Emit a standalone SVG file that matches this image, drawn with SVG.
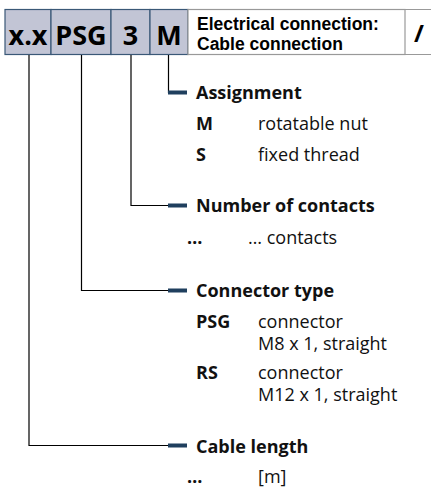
<svg xmlns="http://www.w3.org/2000/svg" width="431" height="488" viewBox="0 0 431 488">
<style>
.code{fill:#c2c5d5;stroke:#3a5877;stroke-width:1.2}
.wbox{fill:#fff;stroke:#999;stroke-width:1.2}
.hd{font-family:"Open Sans","Liberation Sans",sans-serif;font-weight:bold;font-size:27px;fill:#000;text-anchor:middle}
.hs{font-family:"Liberation Sans","Open Sans",sans-serif;font-weight:bold;font-size:17.5px;fill:#000}
.b{font-family:"Open Sans","Liberation Sans",sans-serif;font-weight:bold;font-size:18px;fill:#111}
.t{font-family:"Open Sans","Liberation Sans",sans-serif;font-size:18px;fill:#111}
.ln{fill:none;stroke:#000;stroke-width:1.2}
.dash{fill:#1f3f5e}
</style>
<g id="header">
  <g id="box-xx"><rect class="code" x="5" y="9.5" width="46" height="45"/><text class="hd" x="28" y="45">x.x</text></g>
  <g id="box-psg"><rect class="code" x="51" y="9.5" width="60" height="45"/><text class="hd" x="81" y="45">PSG</text></g>
  <g id="box-3"><rect class="code" x="111" y="9.5" width="39" height="45"/><text class="hd" x="130.5" y="45">3</text></g>
  <g id="box-m"><rect class="code" x="150" y="9.5" width="38" height="45"/><text class="hd" x="169" y="45">M</text></g>
  <g id="box-elec"><rect class="wbox" x="188" y="9.5" width="217" height="45"/><text class="hs" x="197" y="30">Electrical connection:</text><text class="hs" x="197" y="50">Cable connection</text></g>
  <g id="box-slash"><path d="M405 9.5H432M405 54.5H432" stroke="#999" stroke-width="1.2"/><text class="hd" x="419" y="42" style="font-size:24px">/</text></g>
</g>
<g id="connectors">
  <path class="ln" d="M168.5 55V92.5H170"/>
  <path class="ln" d="M131 55V205.5H170"/>
  <path class="ln" d="M81.5 55V290.5H170"/>
  <path class="ln" d="M29 55V445.5H170"/>
  <rect class="dash" x="168" y="90.5" width="19" height="4"/>
  <rect class="dash" x="168" y="203.5" width="19" height="4"/>
  <rect class="dash" x="168" y="288.5" width="19" height="4"/>
  <rect class="dash" x="168" y="443.5" width="19" height="4"/>
</g>
<g id="assignment">
  <text class="b" x="196" y="99">Assignment</text>
  <text class="b" x="196" y="129.5">M</text><text class="t" x="258" y="129.5">rotatable nut</text>
  <text class="b" x="196" y="160.5">S</text><text class="t" x="258" y="160.5">fixed thread</text>
</g>
<g id="contacts">
  <text class="b" x="196" y="212">Number of contacts</text>
  <text class="b" x="187" y="244">…</text><text class="t" x="248" y="244">… contacts</text>
</g>
<g id="connector-type">
  <text class="b" x="196" y="296.5">Connector type</text>
  <text class="b" x="196" y="327.5">PSG</text><text class="t" x="258" y="327.5">connector</text>
  <text class="t" x="258" y="349.5">M8 x 1, straight</text>
  <text class="b" x="196" y="378.5">RS</text><text class="t" x="258" y="378.5">connector</text>
  <text class="t" x="258" y="400.5">M12 x 1, straight</text>
</g>
<g id="cable-length">
  <text class="b" x="196" y="452.5">Cable length</text>
  <text class="b" x="187" y="483">…</text><text class="t" x="258" y="483">[m]</text>
</g>
</svg>
